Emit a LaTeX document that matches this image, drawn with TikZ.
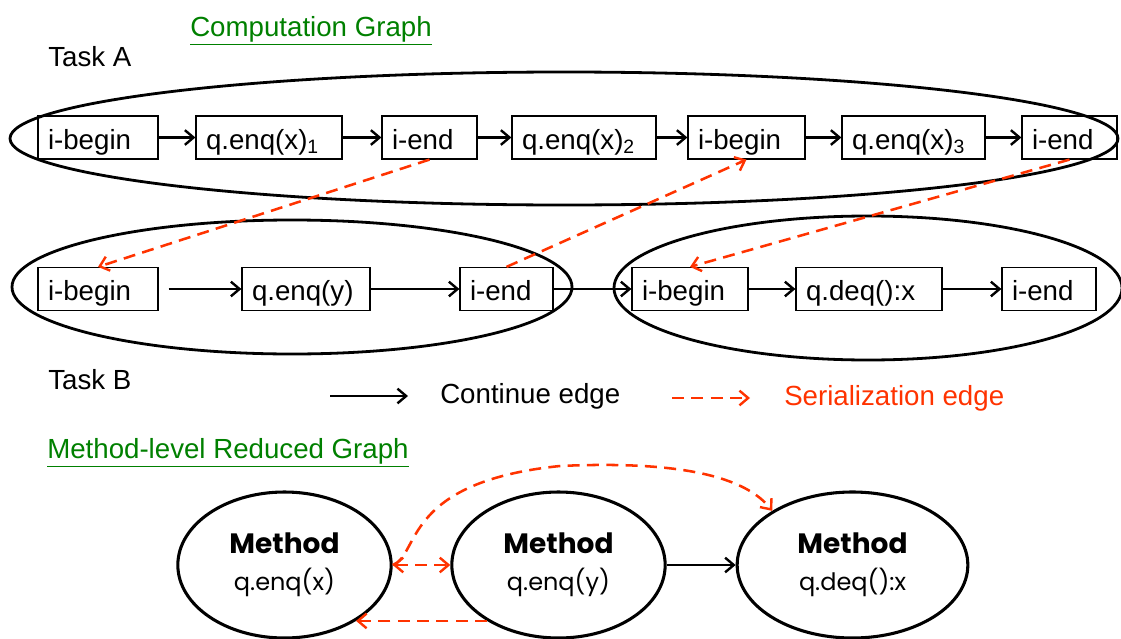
\documentclass[tikz,border=0pt]{standalone}
\usepackage{fontspec}
\setmainfont{Liberation Sans}
\newfontfamily\comicfont{Poppins}
\usetikzlibrary{arrows.meta,shapes.geometric}
\definecolor{serred}{RGB}{255,51,0}
\definecolor{titlegreen}{RGB}{0,128,0}
\begin{document}
\begin{tikzpicture}[x=0.75pt,y=-0.75pt,
  every node/.style={font=\fontsize{20.75}{24}\selectfont},
  box/.style={draw, line width=0.9pt, minimum height=32.25pt, inner xsep=7.5pt, inner ysep=0pt, align=left, text width=#1, text height=20pt, text depth=2.75pt},
  tip/.style={-{Straight Barb[length=6.5pt,width=11pt,line width=1.8pt]}},
  cont/.style={line width=1.9pt, tip},
  ser/.style={draw=serred, line width=1.9pt, dash pattern=on 9pt off 5.5pt, tip},
  task/.style={line width=2.1pt},
  lbl/.style={anchor=west, inner sep=0pt},
  meth/.style={ellipse, draw, line width=2.3pt, inner sep=0pt, align=center, minimum width=160pt, minimum height=109.5pt, font=\comicfont\fontsize{18}{27.75}\selectfont}
]
\useasboundingbox (0,0) rectangle (1121,639);

% titles and labels
\node[lbl, text=titlegreen] (t1) at (190,31) {\underline{Computation Graph}};
\node[lbl] (ta) at (48,57) {Task A};
\node[lbl] (tb) at (48,380) {Task B};
\node[lbl, text=titlegreen] (t2) at (47,453) {\underline{Method-level Reduced Graph}};

% task ellipses
\draw[task] (564,138.5) ellipse [x radius=554, y radius=66.5];
\draw[task] (292,287) ellipse [x radius=280, y radius=67];
\draw[task] (868,288) ellipse [x radius=254, y radius=72];

% row A
\node[box=75pt]    (b1) at (98,137.5)   {i-begin};
\node[box=94.5pt]  (b2) at (269,137.5)  {q.enq(x)\textsubscript{1}};
\node[box=56.25pt] (b3) at (429.5,137.5){i-end};
\node[box=93pt]    (b4) at (584,137.5)  {q.enq(x)\textsubscript{2}};
\node[box=72.75pt] (b5) at (746.5,137.5){i-begin};
\node[box=92.25pt] (b6) at (913.5,137.5){q.enq(x)\textsubscript{3}};
\node[box=56.25pt] (b7) at (1069.5,137.5){i-end};

% row B
\node[box=75pt]    (c1) at (98,289)   {i-begin};
\node[box=81pt]    (c2) at (306,289)  {q.enq(y)};
\node[box=54.75pt] (c3) at (506.5,289){i-end};
\node[box=72pt]    (c4) at (690,289)  {i-begin};
\node[box=94.5pt]  (c5) at (869,289)  {q.deq():x};
\node[box=55.5pt]  (c6) at (1049,289) {i-end};

% continue edges
\draw[cont] (b1) -- (b2);
\draw[cont] (b2) -- (b3);
\draw[cont] (b3) -- (b4);
\draw[cont] (b4) -- (b5);
\draw[cont] (b5) -- (b6);
\draw[cont] (b6) -- (b7);
\draw[cont, shorten <=7.5pt] (c1) -- (c2);
\draw[cont] (c2) -- (c3);
\draw[cont] (c3) -- (c4);
\draw[cont] (c4) -- (c5);
\draw[cont] (c5) -- (c6);

% serialization edges
\draw[ser] (b3.south) -- (c1.north);
\draw[ser] (c3.north) -- (b5.south);
\draw[ser] (b7.south) -- (c4.north);

% legend
\coordinate (l1) at (330,396);
\coordinate (l2) at (408,396);
\draw[cont] (l1) -- (l2);
\node[lbl] (lt1) at (440,396) {Continue edge};
\coordinate (l3) at (672,398);
\coordinate (l4) at (750,398);
\draw[ser] (l3) -- (l4);
\node[lbl, text=serred] (lt2) at (784,398) {Serialization edge};

% reduced graph
\node[meth] (E1) at (284.5,565) {{\fontsize{21}{27.75}\selectfont\bfseries Method}\\q.enq(x)};
\node[meth] (E2) at (558.5,565) {{\fontsize{21}{27.75}\selectfont\bfseries Method}\\q.enq(y)};
\node[meth, minimum width=173pt] (E3) at (852.5,565) {{\fontsize{21}{27.75}\selectfont\bfseries Method}\\q.deq():x};

\draw[cont] (E2.east) -- (E3.west);
\draw[ser, {Straight Barb[length=6.5pt,width=11pt,line width=1.8pt]}-{Straight Barb[length=6.5pt,width=11pt,line width=1.8pt]}] (E1.east) -- (E2.west);
\draw[ser] (E1.east) .. controls (420,555) and (402,482) .. (560,466) .. controls (690,460) and (748,480) .. (E3.146.6);
\draw[ser] (E2.218) -- (E1.322);
\end{tikzpicture}
\end{document}
